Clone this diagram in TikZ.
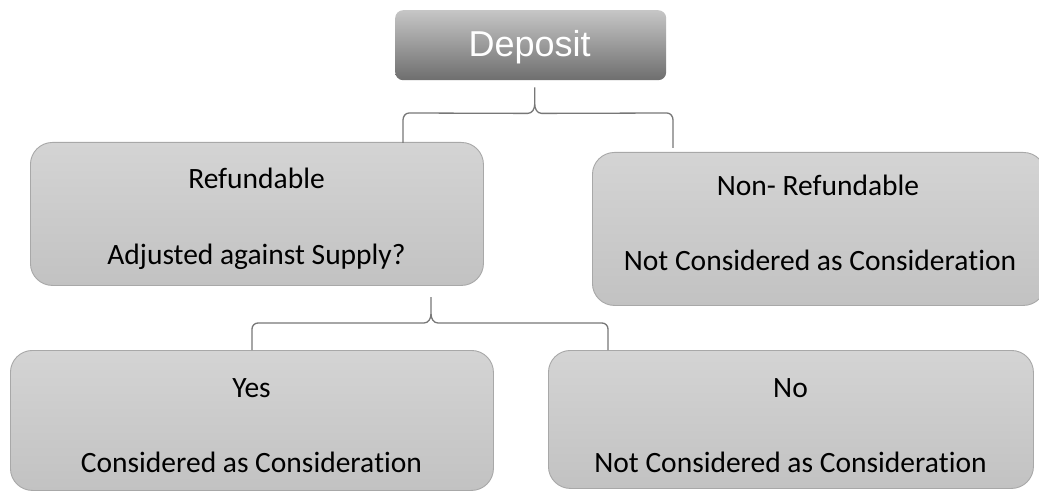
\documentclass[tikz,border=0pt]{standalone}
\usepackage{fontspec}
\setmainfont[RawFeature={-liga;-clig;-calt;-dlig}]{Carlito}
\newfontfamily\headfont{Liberation Sans}
\usetikzlibrary{calc}
\definecolor{boxtop}{HTML}{D4D4D4}
\definecolor{boxbot}{HTML}{C2C2C2}
\definecolor{boxline}{HTML}{A8A8A8}
\definecolor{headtop}{HTML}{C6C6C6}
\definecolor{headbot}{HTML}{6E6E6E}
\definecolor{bracecol}{HTML}{777777}
\tikzset{
  x=1pt, y=-1pt,
  lightbox/.style={draw=boxline, line width=0.9pt, rounded corners=22pt,
    top color=boxtop, bottom color=boxbot, inner sep=0pt, anchor=north west},
  headbox/.style={rounded corners=8pt, top color=headtop, bottom color=headbot,
    inner sep=0pt, anchor=north west, minimum width=271pt, minimum height=70pt},
  boxtext/.style={font=\fontsize{29.5}{34}\selectfont, text=black, inner sep=0pt},
  bracket/.style={draw=bracecol, line width=1.3pt, line join=round}
}
\begin{document}
\begin{tikzpicture}
\useasboundingbox (0,0) rectangle (1039,492);
\clip (0,0) rectangle (1039,492);
\fill[white] (0,0) rectangle (1039,492);

% top box
\node[headbox] (dep) at (395,10) {};
\node[font=\headfont\fontsize{36}{42}\selectfont, text=white, inner sep=0pt] (deptext) at ($(dep.center)+(-1,2)$) {Deposit};

% second row
\node[lightbox, minimum width=453pt, minimum height=143pt] (ref) at (30,142) {};
\node[boxtext] (refa) at (256.5,178) {Refundable};
\node[boxtext] (refb) at (256.5,257) {Adjusted against Supply?};

\node[lightbox, minimum width=453pt, minimum height=153pt] (non) at (592,152) {};
\node[boxtext] (nona) at (818,185) {Non- Refundable};
\node[boxtext] (nonb) at (820,260) {Not Considered as Considera\kern0pt tion};

% third row
\node[lightbox, minimum width=483pt, minimum height=140pt] (yes) at (10,350) {};
\node[boxtext] (yesa) at (251.5,388) {Yes};
\node[boxtext] (yesb) at (251.5,462) {Considered as Considera\kern0pt tion};

\node[lightbox, minimum width=485pt, minimum height=138pt] (no) at (548,350) {};
\node[boxtext] (noa) at (790.5,388) {No};
\node[boxtext] (nob) at (790.5,462) {Not Considered as Considera\kern0pt tion};

% bracket from Deposit to the two kinds of deposit
\coordinate (b1top) at ($(dep.south)+(4,7)$);
\coordinate (b1l) at (403,143);
\coordinate (b1r) at (673,148);
\draw[bracket] (b1top) -- ++(0,17) to[out=-90,in=0] ++(-7,9) -- (409,113) to[out=180,in=90] (403,120) -- (b1l);
\draw[bracket] (b1top) ++(0,17) to[out=-90,in=180] ++(7,9) -- (667,113) to[out=0,in=90] (673,120) -- (b1r);

% bracket from Refundable to its two outcomes
\coordinate (b2top) at (431,297);
\coordinate (b2l) at (252,350);
\coordinate (b2r) at (608,350);
\draw[bracket] (b2top) -- ++(0,17) to[out=-90,in=0] ++(-7,9) -- (258,323) to[out=180,in=90] (252,329) -- (b2l);
\draw[bracket] (b2top) ++(0,17) to[out=-90,in=180] ++(7,9) -- (602,323) to[out=0,in=90] (608,329) -- (b2r);
\end{tikzpicture}
\end{document}
